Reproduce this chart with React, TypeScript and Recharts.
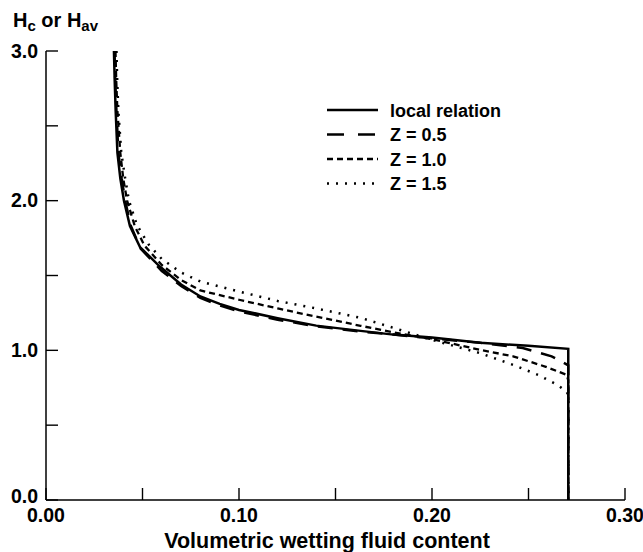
import React from 'react';
import { LineChart, Line, XAxis, YAxis, Customized } from 'recharts';

type Pt = { x: number; y: number };

const localRelation: Pt[] = [
  { x: 0.0352, y: 3.0 }, { x: 0.0356, y: 2.8 }, { x: 0.0361, y: 2.6 }, { x: 0.037, y: 2.32 },
  { x: 0.0385, y: 2.15 }, { x: 0.0404, y: 2.0 }, { x: 0.0435, y: 1.83 }, { x: 0.0487, y: 1.69 },
  { x: 0.059, y: 1.56 }, { x: 0.07, y: 1.44 }, { x: 0.08, y: 1.36 }, { x: 0.09, y: 1.31 },
  { x: 0.1, y: 1.27 }, { x: 0.12, y: 1.215 }, { x: 0.14, y: 1.165 }, { x: 0.163, y: 1.13 },
  { x: 0.18, y: 1.105 }, { x: 0.2, y: 1.085 }, { x: 0.225, y: 1.05 }, { x: 0.25, y: 1.03 },
  { x: 0.2706, y: 1.01 }, { x: 0.2706, y: 0 },
];

const z05: Pt[] = [
  { x: 0.0355, y: 3.0 }, { x: 0.0359, y: 2.8 }, { x: 0.0365, y: 2.6 }, { x: 0.0375, y: 2.32 },
  { x: 0.0392, y: 2.15 }, { x: 0.041, y: 2.0 }, { x: 0.044, y: 1.83 }, { x: 0.049, y: 1.68 },
  { x: 0.06, y: 1.53 }, { x: 0.07, y: 1.43 }, { x: 0.08, y: 1.35 }, { x: 0.09, y: 1.3 },
  { x: 0.1, y: 1.26 }, { x: 0.12, y: 1.205 }, { x: 0.14, y: 1.16 }, { x: 0.163, y: 1.125 },
  { x: 0.18, y: 1.105 }, { x: 0.2, y: 1.08 }, { x: 0.225, y: 1.05 }, { x: 0.247, y: 1.015 },
  { x: 0.262, y: 0.96 }, { x: 0.2706, y: 0.9 }, { x: 0.2706, y: 0 },
];

const z10: Pt[] = [
  { x: 0.036, y: 3.0 }, { x: 0.0364, y: 2.8 }, { x: 0.037, y: 2.6 }, { x: 0.0385, y: 2.32 },
  { x: 0.04, y: 2.15 }, { x: 0.042, y: 2.0 }, { x: 0.046, y: 1.83 }, { x: 0.051, y: 1.7 },
  { x: 0.06, y: 1.57 }, { x: 0.07, y: 1.47 }, { x: 0.08, y: 1.4 }, { x: 0.1, y: 1.338 },
  { x: 0.12, y: 1.28 }, { x: 0.14, y: 1.225 }, { x: 0.163, y: 1.164 }, { x: 0.18, y: 1.12 },
  { x: 0.2, y: 1.075 }, { x: 0.225, y: 1.003 }, { x: 0.242, y: 0.96 }, { x: 0.259, y: 0.89 },
  { x: 0.2698, y: 0.836 }, { x: 0.2706, y: 0.8 }, { x: 0.2706, y: 0 },
];

const z15: Pt[] = [
  { x: 0.0365, y: 3.0 }, { x: 0.0369, y: 2.8 }, { x: 0.0375, y: 2.6 }, { x: 0.039, y: 2.32 },
  { x: 0.041, y: 2.15 }, { x: 0.043, y: 2.0 }, { x: 0.047, y: 1.84 }, { x: 0.053, y: 1.71 },
  { x: 0.06, y: 1.61 }, { x: 0.07, y: 1.52 }, { x: 0.08, y: 1.46 }, { x: 0.1, y: 1.393 },
  { x: 0.12, y: 1.33 }, { x: 0.14, y: 1.28 }, { x: 0.163, y: 1.217 }, { x: 0.18, y: 1.15 },
  { x: 0.2, y: 1.07 }, { x: 0.225, y: 0.981 }, { x: 0.242, y: 0.903 }, { x: 0.255, y: 0.836 },
  { x: 0.265, y: 0.769 }, { x: 0.2698, y: 0.724 }, { x: 0.2706, y: 0.7 }, { x: 0.2706, y: 0 },
];

const xTicks = [0, 0.05, 0.1, 0.15, 0.2, 0.25, 0.3];
const xTickLabels = ['0.00', '', '0.10', '', '0.20', '', '0.30'];
const yTicks = [0, 0.5, 1, 1.5, 2, 2.5, 3];
const yTickLabels = ['0.0', '', '1.0', '', '2.0', '', '3.0'];

const legendItems = [
  { label: 'local relation', dash: undefined as string | undefined },
  { label: 'Z = 0.5', dash: '17 14' },
  { label: 'Z = 1.0', dash: '6 4' },
  { label: 'Z = 1.5', dash: '2 7' },
];

const FONT = '"Liberation Sans", Arial, sans-serif';

const findLabel = (vals: number[], labels: string[], v: number) => {
  const i = vals.findIndex((t) => Math.abs(t - v) < 1e-6);
  return i >= 0 ? labels[i] : '';
};

const XTick = (props: any) => {
  const { x, y, payload } = props;
  const label = findLabel(xTicks, xTickLabels, payload.value);
  return (
    <g>
      <line x1={x} x2={x} y1={y} y2={y - 12} stroke="#000" strokeWidth={1.4} />
      {label && (
        <text x={x} y={y + 22} textAnchor="middle" fontFamily={FONT} fontWeight="bold" fontSize={19.5} fill="#000">
          {label}
        </text>
      )}
    </g>
  );
};

const YTick = (props: any) => {
  const { x, y, payload } = props;
  const label = findLabel(yTicks, yTickLabels, payload.value);
  const off = Math.abs(payload.value) < 1e-6 ? 3 : 6.5;
  return (
    <g>
      <line x1={x} x2={x + 12} y1={y} y2={y} stroke="#000" strokeWidth={1.4} />
      {label && (
        <text x={x - 8} y={y + off} textAnchor="end" fontFamily={FONT} fontWeight="bold" fontSize={19.5} fill="#000">
          {label}
        </text>
      )}
    </g>
  );
};

const LegendBox = () => (
  <g transform="translate(325, 98)">
    {legendItems.map((it, i) => {
      const cy = 12 + i * 24.5;
      return (
        <g key={it.label}>
          <line x1={2} x2={53} y1={cy} y2={cy} stroke="#000" strokeWidth={2.5} strokeDasharray={it.dash} />
          <text x={65} y={cy + 6.5} fontFamily={FONT} fontWeight="bold" fontSize={18} fill="#000">
            {it.label}
          </text>
        </g>
      );
    })}
  </g>
);

export default function App() {
  return (
    <div style={{ position: 'absolute', left: 0, top: 0, width: 643, height: 552, background: '#fff' }}>
      <LineChart width={643} height={552} margin={{ top: 51, right: 18, bottom: 51, left: 45 }}>
        <XAxis
          type="number"
          dataKey="x"
          domain={[0, 0.3]}
          ticks={xTicks}
          interval={0}
          height={1}
          tickSize={0}
          tickMargin={0}
          tickLine={false}
          tick={<XTick />}
          axisLine={{ stroke: '#000', strokeWidth: 1.5 }}
          allowDataOverflow
          label={{
            content: () => (
              <text x={327} y={548} textAnchor="middle" fontFamily={FONT} fontWeight="bold" fontSize={21.5} fill="#000">
                Volumetric wetting fluid content
              </text>
            ),
          }}
        />
        <YAxis
          type="number"
          dataKey="y"
          domain={[0, 3]}
          ticks={yTicks}
          interval={0}
          width={1}
          tickSize={0}
          tickMargin={0}
          tickLine={false}
          tick={<YTick />}
          axisLine={{ stroke: '#000', strokeWidth: 1.5 }}
          allowDataOverflow
          label={{
            content: () => (
              <text x={13} y={27} fontFamily={FONT} fontWeight="bold" fontSize={20} fill="#000">
                H
                <tspan dy={4} fontSize={15}>c</tspan>
                <tspan dy={-4}> or H</tspan>
                <tspan dy={4} fontSize={15}>av</tspan>
              </text>
            ),
          }}
        />
        <Customized component={LegendBox} />
        <Line data={localRelation} dataKey="y" type="linear" stroke="#000" strokeWidth={2.5} dot={false} isAnimationActive={false} />
        <Line data={z05} dataKey="y" type="linear" stroke="#000" strokeWidth={2.5} strokeDasharray="15 10" dot={false} isAnimationActive={false} />
        <Line data={z10} dataKey="y" type="linear" stroke="#000" strokeWidth={2.3} strokeDasharray="6 4" dot={false} isAnimationActive={false} />
        <Line data={z15} dataKey="y" type="linear" stroke="#000" strokeWidth={2.5} strokeDasharray="2 7" dot={false} isAnimationActive={false} />
      </LineChart>
    </div>
  );
}
